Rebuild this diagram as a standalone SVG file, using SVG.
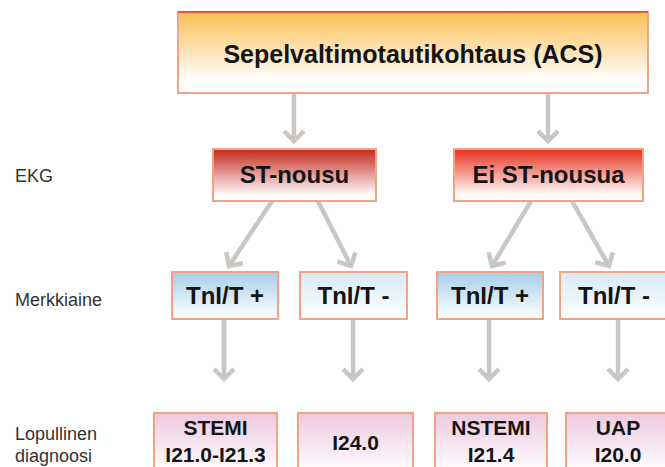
<svg xmlns="http://www.w3.org/2000/svg" width="665" height="467" viewBox="0 0 665 467">
<style>
.lbl{font-family:"Liberation Sans",Arial,sans-serif;font-size:18px;fill:#333}
.t{font-family:"Liberation Sans",Arial,sans-serif;font-weight:bold;fill:#141414;text-anchor:middle}
.box{stroke:#f2a384;stroke-width:2}
.conn{stroke:#c9c6c3;stroke-width:4.5;fill:none;marker-end:url(#chev)}
</style>
<defs>
<linearGradient id="gTop" x1="0" y1="0" x2="0" y2="1"><stop offset="0" stop-color="#fcbf55"/><stop offset="0.85" stop-color="#ffffff"/></linearGradient>
<linearGradient id="gSt" x1="0" y1="0" x2="0" y2="1"><stop offset="0" stop-color="#c4281c"/><stop offset="0.9" stop-color="#ffffff"/></linearGradient>
<linearGradient id="gEi" x1="0" y1="0" x2="0" y2="1"><stop offset="0" stop-color="#e5301c"/><stop offset="0.9" stop-color="#ffffff"/></linearGradient>
<linearGradient id="gTp" x1="0" y1="0" x2="0" y2="1"><stop offset="0" stop-color="#a6cdea"/><stop offset="1" stop-color="#ffffff"/></linearGradient>
<linearGradient id="gTm" x1="0" y1="0" x2="0" y2="1"><stop offset="0" stop-color="#d6eaf8"/><stop offset="1" stop-color="#ffffff"/></linearGradient>
<linearGradient id="gDx" x1="0" y1="0" x2="0" y2="1"><stop offset="0" stop-color="#eec9df"/><stop offset="1" stop-color="#ffffff"/></linearGradient>
<marker id="chev" markerUnits="userSpaceOnUse" markerWidth="30" markerHeight="30" viewBox="-15 -15 30 30" refX="0" refY="0" orient="auto">
<path d="M -10 -10 L 0 0 L -10 10" fill="none" stroke="#c9c6c3" stroke-width="4.5"/>
</marker>
</defs>

<g id="labels">
<text class="lbl" x="15" y="182">EKG</text>
<text class="lbl" x="15" y="306">Merkkiaine</text>
<text class="lbl" x="15" y="440">Lopullinen</text>
<text class="lbl" x="15" y="462">diagnoosi</text>
</g>

<g id="connectors">
<path class="conn" d="M 294 93 L 294 141"/>
<path class="conn" d="M 548 93 L 548 141"/>
<path class="conn" d="M 272 201 L 229 266"/>
<path class="conn" d="M 318 201 L 351 266"/>
<path class="conn" d="M 531 201 L 492 266"/>
<path class="conn" d="M 572 201 L 609 266"/>
<path class="conn" d="M 224 319 L 224 379"/>
<path class="conn" d="M 353 319 L 353 379"/>
<path class="conn" d="M 489 319 L 489 379"/>
<path class="conn" d="M 618 319 L 618 379"/>
</g>

<g id="acs">
<rect class="box" x="178" y="12" width="470" height="81" fill="url(#gTop)" stroke="#f5ae92"/>
<line x1="178" y1="12" x2="648" y2="12" stroke="#e5552a" stroke-width="2"/>
<text class="t" x="413" y="63" font-size="25">Sepelvaltimotautikohtaus (ACS)</text>
</g>

<g id="st-nousu">
<rect class="box" x="213" y="149" width="163" height="52" fill="url(#gSt)"/>
<text class="t" x="294.5" y="183" font-size="24">ST-nousu</text>
</g>
<g id="ei-st-nousua">
<rect class="box" x="454" y="149" width="189" height="52" fill="url(#gEi)"/>
<text class="t" x="548.5" y="183" font-size="24">Ei ST-nousua</text>
</g>

<g id="tn1">
<rect class="box" x="172" y="272" width="106" height="47" fill="url(#gTp)"/>
<text class="t" x="225" y="304" font-size="24">TnI/T +</text>
</g>
<g id="tn2">
<rect class="box" x="300" y="272" width="107" height="47" fill="url(#gTm)"/>
<text class="t" x="353.5" y="304" font-size="24">TnI/T -</text>
</g>
<g id="tn3">
<rect class="box" x="437" y="272" width="106" height="47" fill="url(#gTp)"/>
<text class="t" x="490" y="304" font-size="24">TnI/T +</text>
</g>
<g id="tn4">
<rect class="box" x="560" y="272" width="108" height="47" fill="url(#gTm)"/>
<text class="t" x="614" y="304" font-size="24">TnI/T -</text>
</g>

<g id="stemi">
<rect class="box" x="154" y="413" width="123" height="60" fill="url(#gDx)"/>
<text class="t" x="215.5" y="435" font-size="21">STEMI</text>
<text class="t" x="215.5" y="462" font-size="21">I21.0-I21.3</text>
</g>
<g id="i24">
<rect class="box" x="298" y="413" width="115" height="60" fill="url(#gDx)"/>
<text class="t" x="355.5" y="450" font-size="21">I24.0</text>
</g>
<g id="nstemi">
<rect class="box" x="435" y="413" width="112" height="60" fill="url(#gDx)"/>
<text class="t" x="491" y="435" font-size="21">NSTEMI</text>
<text class="t" x="491" y="462" font-size="21">I21.4</text>
</g>
<g id="uap">
<rect class="box" x="566" y="413" width="104" height="60" fill="url(#gDx)"/>
<text class="t" x="618" y="435" font-size="21">UAP</text>
<text class="t" x="618" y="462" font-size="21">I20.0</text>
</g>
</svg>
